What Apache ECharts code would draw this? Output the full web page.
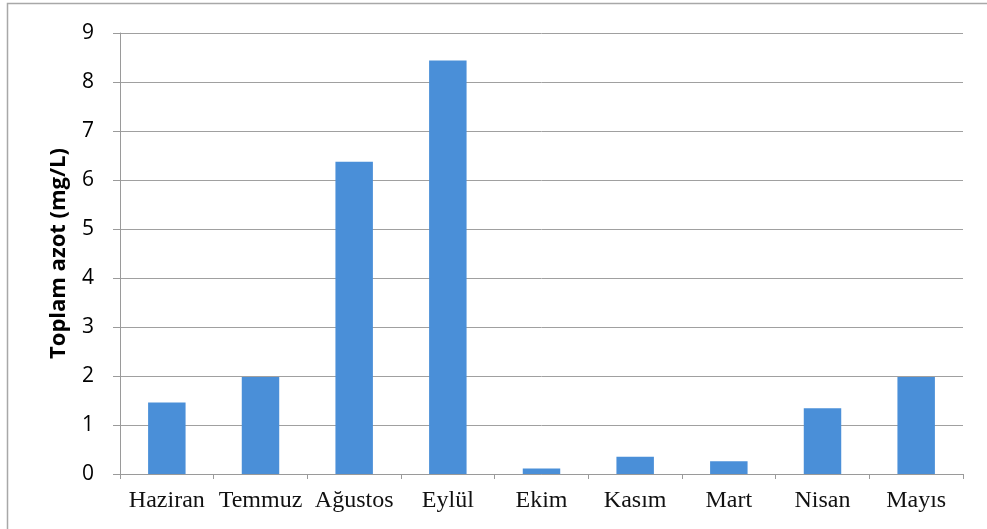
<!DOCTYPE html>
<html>
<head>
<meta charset="utf-8">
<script src="https://cdn.jsdelivr.net/npm/echarts@6/dist/echarts.min.js"></script>
<style>
    html, body { margin: 0; padding: 0; background: #fff; }
    #chart { width: 987px; height: 529px; }
</style>
</head>
<body>
<div id="chart"></div>
<script>
// aylar ve toplam azot değerleri (mg/L)
var months = ['Haziran', 'Temmuz', 'Ağustos', 'Eylül', 'Ekim', 'Kasım', 'Mart', 'Nisan', 'Mayıs'];
var azot = [1.46, 1.98, 6.37, 8.44, 0.11, 0.35, 0.26, 1.34, 1.98];
var yTicks = [0, 9, 1];

var chart = echarts.init(document.getElementById('chart'));
var option = {
    animation: false,
    graphic: [
        {
            type: 'rect',
            shape: { x: 7.5, y: 3.5, width: 1100, height: 700 },
            style: { fill: 'none', stroke: '#a8a8a8', lineWidth: 1.5 },
            silent: true
        }
    ],
    grid: {
        left: 120,
        right: 24,
        top: 33,
        bottom: 55
    },
    xAxis: {
        type: 'category',
        data: months,
        axisLine: { lineStyle: { color: '#9a9a9a', width: 1 } },
        axisTick: { show: true, length: 5, lineStyle: { color: '#9a9a9a' } },
        axisLabel: {
            interval: 0,
            color: '#111',
            fontFamily: 'Liberation Serif',
            fontSize: 24,
            margin: 15
        }
    },
    yAxis: {
        type: 'value',
        min: yTicks[0],
        max: yTicks[1],
        interval: yTicks[2],
        name: 'Toplam azot (mg/L)',
        nameLocation: 'middle',
        nameGap: 50,
        nameTextStyle: {
            color: '#000',
            fontFamily: 'Open Sans',
            fontWeight: 'bold',
            fontSize: 22
        },
        axisLine: { show: true, lineStyle: { color: '#9a9a9a', width: 1 } },
        axisTick: { show: true, length: 7, lineStyle: { color: '#9a9a9a' } },
        axisLabel: {
            color: '#000',
            fontFamily: 'Open Sans',
            fontSize: 21,
            margin: 26
        },
        splitLine: { lineStyle: { color: '#a0a0a0', width: 1 } }
    },
    series: [
        {
            type: 'bar',
            data: azot,
            barWidth: '40%',
            itemStyle: { color: '#4a8fd8' }
        }
    ]
};
chart.setOption(option);
</script>
</body>
</html>
